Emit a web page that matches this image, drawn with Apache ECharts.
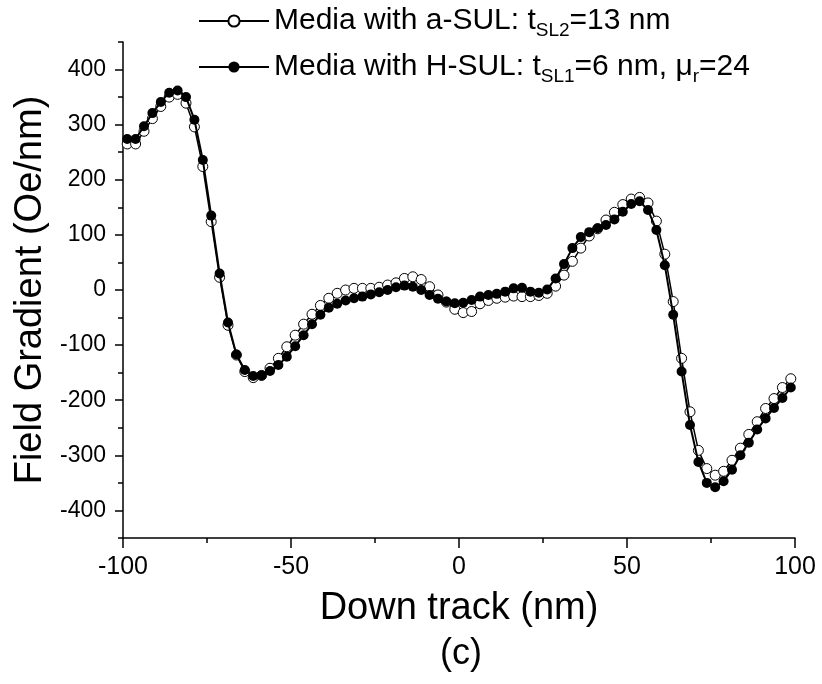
<!DOCTYPE html>
<html>
<head>
<meta charset="utf-8">
<script src="https://cdn.jsdelivr.net/npm/echarts@6/dist/echarts.min.js"></script>
<style>
  html, body { margin: 0; padding: 0; background: #fff; }
  #chart { width: 822px; height: 684px; }
</style>
</head>
<body>
<div id="chart"></div>
<script>
// down track positions (nm), one cell every 2.5 nm
var downTrack = [];
for (var i = 0; i < 80; i++) downTrack.push(-98.75 + 2.5 * i);

// field gradient (Oe/nm)
var aSUL = [265, 265, 288, 311, 333, 350, 355, 339, 296, 224,
  124, 23, -64, -118, -148, -159, -155, -142, -124, -103,
  -82, -62, -44, -28, -15, -6, 0, 3, 3, 3,
  5, 9, 13, 21, 24, 19, 6, -9, -22, -35,
  -41, -39, -25, -19, -15, -13, -11, -12, -12, -10,
  -6, 7, 27, 52, 76, 98, 111, 127, 141, 155,
  165, 168, 158, 125, 65, -21, -124, -221, -291, -324,
  -336, -329, -309, -287, -262, -239, -215, -197, -177, -161];

var hSUL = [274, 274, 297, 321, 341, 358, 362, 350, 309, 236,
  135, 30, -59, -117, -145, -156, -155, -147, -136, -121,
  -102, -82, -62, -45, -32, -25, -19, -15, -12, -8,
  -4, 0, 5, 8, 6, 0, -9, -16, -21, -24,
  -23, -18, -12, -9, -7, -3, 3, 4, -3, -5,
  1, 21, 47, 76, 96, 105, 112, 118, 128, 142,
  156, 161, 145, 109, 45, -45, -148, -245, -312, -350,
  -358, -347, -326, -300, -277, -253, -233, -214, -196, -177];

var yMajor = [-400, -300, -200, -100, 0, 100, 200, 300, 400];
var yMinor = [-450, -350, -250, -150, -50, 50, 150, 250, 350, 450];

var seriesNames = ['aSUL', 'hSUL'];
var legendText = {
  aSUL: '{n|Media with a-SUL: t}{s|SL2}{n|=13 nm}',
  hSUL: '{n|Media with H-SUL: t}{s|SL1}{n|=6 nm, μ}{s|r}{n|=24}'
};

function pairs(xs, ys) {
  var out = [];
  for (var i = 0; i < xs.length; i++) out.push([xs[i], ys[i]]);
  return out;
}

var font = 'Liberation Sans, Arial, sans-serif';
var chart = echarts.init(document.getElementById('chart'));

var option = {
  backgroundColor: '#fff',
  animation: false,
  textStyle: { fontFamily: font, color: '#000' },
  graphic: [{
    type: 'text',
    left: 440,
    top: 636,
    style: { text: '(c)', font: '36px ' + font, fill: '#000' }
  }],
  legend: {
    orient: 'vertical',
    left: 193,
    top: 1,
    itemWidth: 70,
    itemHeight: 14,
    itemGap: 12,
    data: seriesNames,
    formatter: function (name) { return legendText[name]; },
    textStyle: {
      fontFamily: font,
      color: '#000',
      rich: {
        n: { fontFamily: font, fontSize: 30, lineHeight: 38, color: '#000' },
        s: { fontFamily: font, fontSize: 19, lineHeight: 19, verticalAlign: 'bottom', color: '#000' }
      }
    }
  },
  grid: { left: 123, right: 27, top: 42, bottom: 146 },
  xAxis: {
    type: 'value',
    min: -100,
    max: 100,
    interval: 50,
    name: 'Down track (nm)',
    nameLocation: 'middle',
    nameGap: 52,
    nameTextStyle: { fontFamily: font, fontSize: 38, color: '#000' },
    axisLine: { onZero: false, lineStyle: { color: '#000', width: 1.5 } },
    axisTick: { inside: false, length: 10, lineStyle: { color: '#000', width: 1.5 } },
    minorTick: { show: true, splitNumber: 2, length: 5, lineStyle: { color: '#000', width: 1.5 } },
    axisLabel: { fontFamily: font, fontSize: 25, color: '#000', margin: 17 },
    splitLine: { show: false }
  },
  yAxis: [{
    type: 'value',
    min: -450,
    max: 450,
    name: 'Field Gradient (Oe/nm)',
    nameLocation: 'middle',
    nameGap: 68,
    nameTextStyle: { fontFamily: font, fontSize: 38, color: '#000' },
    axisLine: { show: true, onZero: false, lineStyle: { color: '#000', width: 1.5 } },
    axisTick: { show: true, inside: false, length: 8, customValues: yMajor, lineStyle: { color: '#000', width: 1.5 } },
    axisLabel: { fontFamily: font, fontSize: 23, color: '#000', margin: 17, customValues: yMajor },
    splitLine: { show: false }
  }, {
    type: 'value',
    position: 'left',
    min: -450,
    max: 450,
    axisLine: { show: false, onZero: false },
    axisTick: { show: true, inside: false, length: 5, customValues: yMinor, lineStyle: { color: '#000', width: 1.5 } },
    axisLabel: { show: false },
    splitLine: { show: false }
  }],
  series: [{
    name: 'aSUL',
    type: 'line',
    data: pairs(downTrack, aSUL),
    symbol: 'circle',
    symbolSize: 10,
    itemStyle: { color: '#fff', borderColor: '#000', borderWidth: 1 },
    lineStyle: { color: '#000', width: 1.5 },
    z: 2
  }, {
    name: 'hSUL',
    type: 'line',
    data: pairs(downTrack, hSUL),
    symbol: 'circle',
    symbolSize: 10,
    itemStyle: { color: '#000', borderColor: '#000', borderWidth: 0 },
    lineStyle: { color: '#000', width: 2 },
    z: 3
  }]
};

chart.setOption(option);
</script>
</body>
</html>
